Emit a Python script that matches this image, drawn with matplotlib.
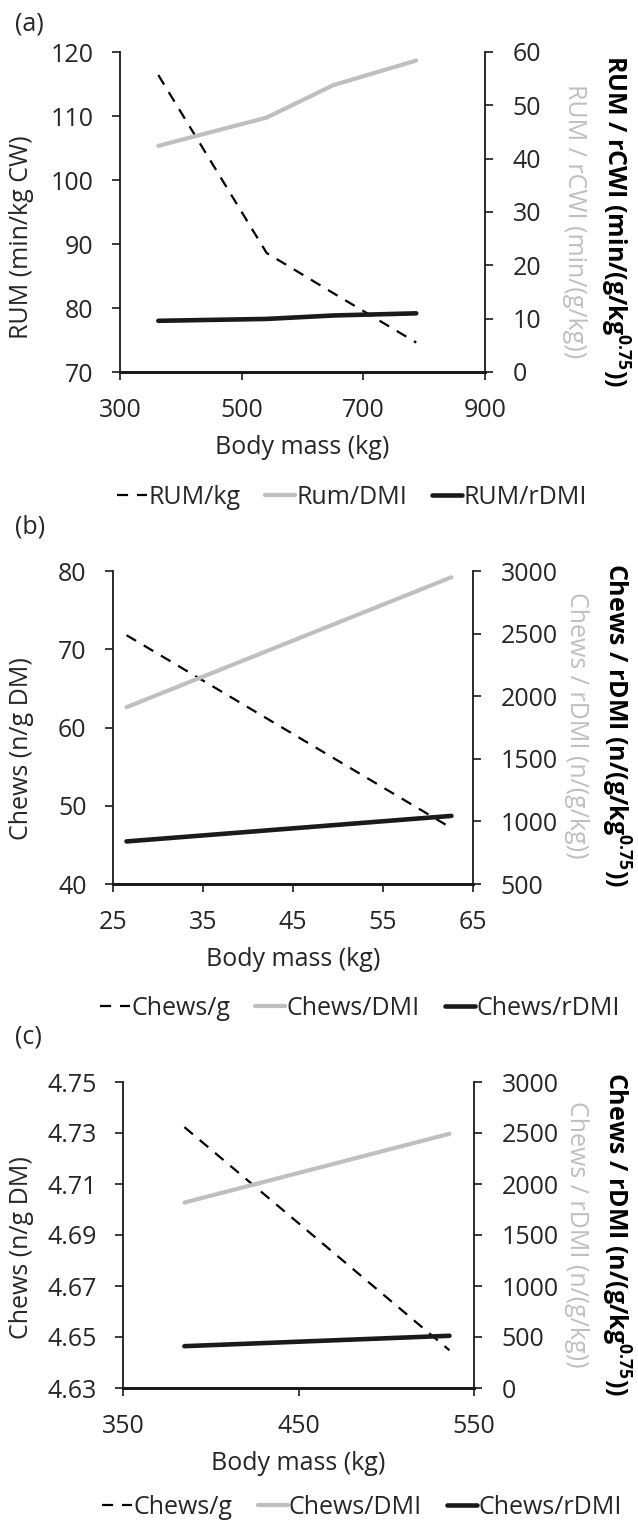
import matplotlib
matplotlib.use("Agg")
import matplotlib.pyplot as plt

plt.rcParams['font.family'] = ['Open Sans', 'DejaVu Sans']
plt.rcParams['mathtext.fontset'] = 'custom'
plt.rcParams['mathtext.rm'] = 'Open Sans'
plt.rcParams['mathtext.bf'] = 'Open Sans:bold'

# ---------------- data ----------------
# Panel (a)
a_mass = [363, 541, 651, 787]
a_rum_kg = [116.4, 88.6, 82.3, 74.6]          # left axis
a_rum_dmi = [42.4, 47.7, 53.8, 58.4]          # right axis
a_rum_rdmi = [9.6, 9.95, 10.6, 11.0]          # right axis

# Panel (b)
b_mass = [26.5, 62.6]
b_chews_g = [71.8, 47.15]                     # left axis
b_chews_dmi = [1912, 2950]                    # right axis
b_chews_rdmi = [840, 1044]                    # right axis

# Panel (c)
c_mass = [385, 536]
c_chews_g = [4.7323, 4.6448]                  # left axis
c_chews_dmi = [1818, 2492]                    # right axis
c_chews_rdmi = [410, 512]                     # right axis

a_xticks = [300, 500, 700, 900]
a_lticks = [70, 80, 90, 100, 110, 120]
a_rticks = [0, 10, 20, 30, 40, 50, 60]
b_xticks = [25, 35, 45, 55, 65]
b_lticks = [40, 50, 60, 70, 80]
b_rticks = [500, 1000, 1500, 2000, 2500, 3000]
c_xticks = [350, 450, 550]
c_lticks = [4.63, 4.65, 4.67, 4.69, 4.71, 4.73, 4.75]
c_rticks = [0, 500, 1000, 1500, 2000, 2500, 3000]

W, H = 638, 1521
GREY = '#BFBFBF'
TXT = '#262626'
FS = 18

fig = plt.figure(figsize=(W / 100, H / 100), dpi=100)


def make_axes(l, r, t, b):
    return fig.add_axes([l / W, 1 - b / H, (r - l) / W, (b - t) / H])


def panel(box, x, ldata, gdata, kdata, xticks, lticks, rticks, ltickfmt,
          leftlab, greylab, blacklab, names, letter, letter_y,
          ylab_y, rlab_y, grey_x, black_x, xlab_y, leg_x, leg_y):
    l, r, t, b = box
    ax = make_axes(l, r, t, b)
    ax2 = ax.twinx()
    ln1, = ax.plot(x, ldata, color='black', lw=1.6, linestyle=(0, (5, 4)),
                   label=names[0])
    ln2, = ax2.plot(x, gdata, color=GREY, lw=3.0, solid_capstyle='round',
                    label=names[1])
    ln3, = ax2.plot(x, kdata, color='#1a1a1a', lw=3.3, solid_capstyle='round',
                    label=names[2])
    ax.set_xlim(xticks[0], xticks[-1])
    ax.set_ylim(lticks[0], lticks[-1])
    ax2.set_ylim(rticks[0], rticks[-1])
    ax.set_xticks(xticks)
    ax.set_xticklabels([str(v) for v in xticks])
    ax.set_yticks(lticks)
    ax.set_yticklabels([ltickfmt.format(v) for v in lticks])
    ax2.set_yticks(rticks)
    ax2.set_yticklabels([str(v) for v in rticks])
    for a in (ax, ax2):
        a.spines['top'].set_visible(False)
        for s in ('left', 'right'):
            a.spines[s].set_linewidth(1.3)
            a.spines[s].set_color('#1a1a1a')
        a.spines['bottom'].set_linewidth(2.0)
        a.spines['bottom'].set_color('#1a1a1a')
        a.patch.set_visible(False)
    ax.spines['right'].set_visible(False)
    ax2.spines['left'].set_visible(False)
    ax.tick_params(axis='y', direction='out', length=6, width=1.2,
                   pad=13, labelsize=FS, colors='#1a1a1a', labelcolor=TXT)
    ax.tick_params(axis='x', direction='out', length=6, width=1.2,
                   pad=13, labelsize=FS, colors='#1a1a1a', labelcolor=TXT)
    ax2.tick_params(axis='y', direction='out', length=6, width=1.2,
                    pad=14, labelsize=FS, colors='#1a1a1a', labelcolor=TXT)

    fig.text(15 / W, 1 - letter_y / H, letter, fontsize=FS, color=TXT,
             ha='left', va='center')
    fig.text(22 / W, 1 - ylab_y / H, leftlab, fontsize=FS, color=TXT,
             rotation=90, ha='center', va='center')
    fig.text(grey_x / W, 1 - rlab_y / H, greylab, fontsize=FS, color=GREY,
             rotation=-90, ha='center', va='center')
    fig.text(black_x / W, 1 - rlab_y / H, blacklab, fontsize=FS, color='black',
             fontweight='bold', rotation=-90, ha='center', va='center')
    fig.text((l + r) / 2 / W, 1 - xlab_y / H, 'Body mass (kg)', fontsize=FS,
             color=TXT, ha='center', va='center')
    fig.legend(handles=[ln1, ln2, ln3], loc='center',
               bbox_to_anchor=(leg_x / W, 1 - leg_y / H), ncol=3,
               frameon=False, fontsize=FS, handlelength=1.2,
               handletextpad=0.05, columnspacing=1.0, borderaxespad=0,
               labelcolor=TXT)
    return ax, ax2


panel((120, 485, 52, 372), a_mass, a_rum_kg, a_rum_dmi, a_rum_rdmi,
      a_xticks, a_lticks, a_rticks, '{:d}',
      'RUM (min/kg CW)', 'RUM / rCWI (min/(g/kg))',
      r'RUM / rCWI (min/(g/kg$^{\mathbf{0.75}}$))',
      ['RUM/kg', 'Rum/DMI', 'RUM/rDMI'], '(a)', 24,
      237, 221, 575, 615, 448, 352, 497)

panel((113, 473, 571, 884), b_mass, b_chews_g, b_chews_dmi, b_chews_rdmi,
      b_xticks, b_lticks, b_rticks, '{:d}',
      'Chews (n/g DM)', 'Chews / rDMI (n/(g/kg))',
      r'Chews / rDMI (n/(g/kg$^{\mathbf{0.75}}$))',
      ['Chews/g', 'Chews/DMI', 'Chews/rDMI'], '(b)', 527,
      749, 725, 576, 616, 960, 360, 1008)

panel((123, 474, 1082, 1388), c_mass, c_chews_g, c_chews_dmi, c_chews_rdmi,
      c_xticks, c_lticks, c_rticks, '{:.2f}',
      'Chews (n/g DM)', 'Chews / rDMI (n/(g/kg))',
      r'Chews / rDMI (n/(g/kg$^{\mathbf{0.75}}$))',
      ['Chews/g', 'Chews/DMI', 'Chews/rDMI'], '(c)', 1037,
      1248, 1234, 577, 616, 1463, 362, 1507)

fig.savefig('out.png', dpi=100, facecolor='white')
